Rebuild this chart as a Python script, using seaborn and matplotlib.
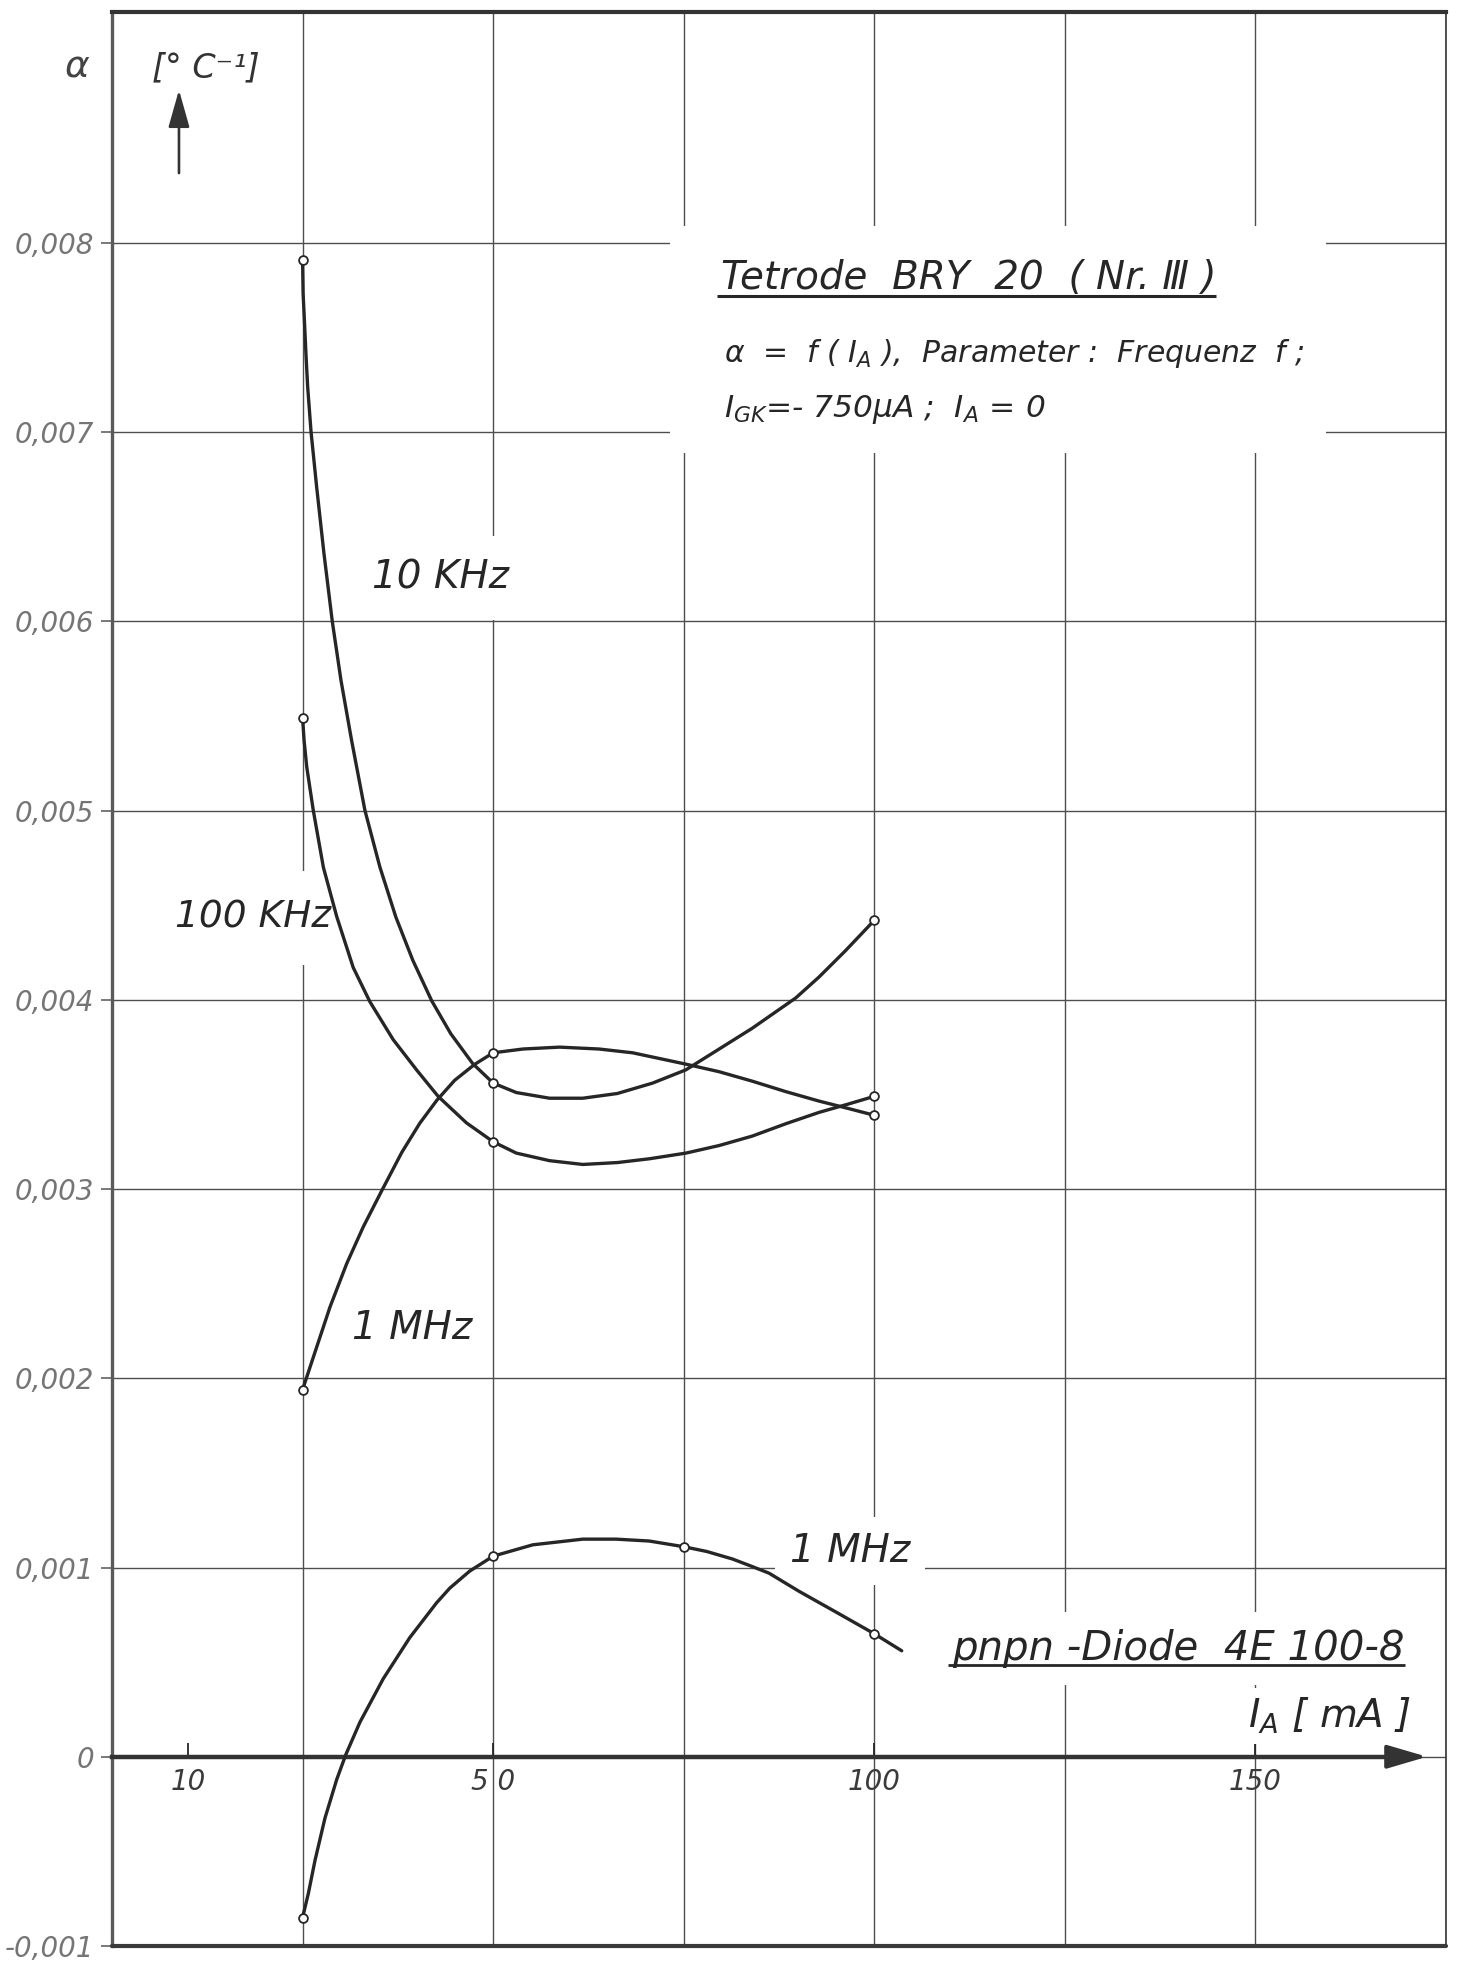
import numpy as np
import pandas as pd
import matplotlib
matplotlib.use("Agg")
import matplotlib.pyplot as plt
import matplotlib.patches as mpatches
from matplotlib.lines import Line2D
from matplotlib.ticker import FuncFormatter
import seaborn as sns

# ---------------------------------------------------------------
# Measured points: anode current I_A [mA] -> alpha [1e-3 / degC]
# ---------------------------------------------------------------
ia_tetrode = [25, 50, 100]
alpha_10khz = [7.91, 3.56, 4.42]
alpha_100khz = [5.49, 3.25, 3.49]
alpha_1mhz = [1.94, 3.72, 3.39]

ia_diode = [25, 50, 75, 100]
alpha_diode_1mhz = [-0.85, 1.06, 1.11, 0.65]

# ---------------------------------------------------------------
# Hand-drawn curves through the measured points (traced values)
# ---------------------------------------------------------------
curve_10khz_x = [25.0, 25.07, 25.24, 25.46, 25.67, 26.11, 26.85, 27.81, 28.90,
                 30.04, 31.43, 33.18, 35.14, 37.24, 39.46, 41.95, 44.44, 47.32,
                 50.0, 53.04, 57.4, 61.76, 66.3, 70.92, 75.29, 79.65, 84.0,
                 89.7, 92.74, 96.23, 100.0]
curve_10khz_y = [7.91, 7.734, 7.59, 7.399, 7.238, 7.002, 6.709, 6.357, 5.999,
                 5.688, 5.371, 5.001, 4.702, 4.437, 4.209, 3.994, 3.821, 3.663,
                 3.56, 3.51, 3.48, 3.48, 3.505, 3.56, 3.63, 3.74, 3.85,
                 4.01, 4.12, 4.26, 4.42]

curve_100khz_x = [25.0, 25.2, 25.55, 26.41, 27.73, 29.48, 31.65, 33.83, 36.88,
                  39.95, 42.78, 46.49, 50.0, 53.04, 57.4, 61.76, 66.3, 70.5,
                  75.29, 79.65, 84.0, 88.38, 92.74, 96.66, 100.0]
curve_100khz_y = [5.49, 5.37, 5.23, 5.00, 4.70, 4.44, 4.17, 3.99, 3.79,
                  3.63, 3.49, 3.35, 3.25, 3.19, 3.15, 3.13, 3.14, 3.16,
                  3.19, 3.23, 3.28, 3.345, 3.405, 3.45, 3.49]

curve_1mhz_x = [25.0, 26.86, 28.60, 30.79, 32.96, 35.37, 38.02, 40.38, 42.61,
                44.96, 47.58, 50.0, 53.9, 58.7, 63.9, 68.3, 75.29, 79.65,
                84.0, 88.38, 92.74, 96.66, 100.0]
curve_1mhz_y = [1.94, 2.166, 2.377, 2.606, 2.800, 2.990, 3.194, 3.348, 3.469,
                3.575, 3.659, 3.72, 3.74, 3.75, 3.74, 3.72, 3.66, 3.62,
                3.57, 3.515, 3.465, 3.425, 3.39]

curve_diode_x = [25.0, 25.76, 26.64, 27.94, 29.48, 30.69, 32.53, 35.58, 39.07,
                 42.57, 44.31, 46.92, 50.0, 55.2, 61.76, 66.12, 70.48, 75.0,
                 78.0, 81.4, 84.0, 86.2, 90.1, 95.4, 100.0, 103.6]
curve_diode_y = [-0.85, -0.722, -0.546, -0.324, -0.120, 0.013, 0.183, 0.412,
                 0.630, 0.813, 0.891, 0.981, 1.06, 1.12, 1.15, 1.15, 1.14, 1.11,
                 1.085, 1.045, 1.005, 0.97, 0.875, 0.755, 0.65, 0.56]

y_tick_values = [-1, 0, 1, 2, 3, 4, 5, 6, 7, 8]          # in 1e-3 / degC
x_label_positions = [10, 50, 100, 150]
x_label_texts = ["10", "5 0", "100", "150"]
x_grid_step = 25

SCALE = 1e-3
INK = "#262626"
GRID = "#4e4e4e"

# ---------------------------------------------------------------
sns.set_theme(style="white")
plt.rcParams["font.family"] = ["DejaVu Sans"]
plt.rcParams["font.style"] = "italic"
plt.rcParams["mathtext.fontset"] = "dejavusans"

curves = pd.concat([
    pd.DataFrame({"I_A": curve_10khz_x, "alpha": np.array(curve_10khz_y) * SCALE, "curve": "10 kHz"}),
    pd.DataFrame({"I_A": curve_100khz_x, "alpha": np.array(curve_100khz_y) * SCALE, "curve": "100 kHz"}),
    pd.DataFrame({"I_A": curve_1mhz_x, "alpha": np.array(curve_1mhz_y) * SCALE, "curve": "1 MHz"}),
    pd.DataFrame({"I_A": curve_diode_x, "alpha": np.array(curve_diode_y) * SCALE, "curve": "diode 1 MHz"}),
], ignore_index=True)

points = pd.concat([
    pd.DataFrame({"I_A": ia_tetrode, "alpha": np.array(alpha_10khz) * SCALE}),
    pd.DataFrame({"I_A": ia_tetrode, "alpha": np.array(alpha_100khz) * SCALE}),
    pd.DataFrame({"I_A": ia_tetrode, "alpha": np.array(alpha_1mhz) * SCALE}),
    pd.DataFrame({"I_A": ia_diode, "alpha": np.array(alpha_diode_1mhz) * SCALE}),
], ignore_index=True)

fig = plt.figure(figsize=(14.63, 19.62), dpi=100)
fig.patch.set_facecolor("white")
ax = fig.add_axes([112 / 1463, 16 / 1962, (1446 - 112) / 1463, (1946 - 12) / 1962])
ax.set_facecolor("white")

sns.lineplot(data=curves, x="I_A", y="alpha", units="curve", estimator=None,
             sort=False, color=INK, lw=2.4, legend=False, ax=ax, zorder=3,
             solid_joinstyle="round", solid_capstyle="round")
sns.scatterplot(data=points, x="I_A", y="alpha", marker="o", s=40,
                color="white", edgecolor=INK, linewidth=1.3, legend=False,
                ax=ax, zorder=4)

ax.set_xlabel("")
ax.set_ylabel("")
ax.set_xlim(0, 174.6)
ax.set_ylim(-0.001, 0.00922)
ax.set_axisbelow(True)

# grid and ticks
ax.xaxis.remove_overlapping_locs = False
ax.set_xticks(np.arange(0, 176, x_grid_step))
ax.set_xticks(x_label_positions, labels=x_label_texts, minor=True)
ax.tick_params(axis="x", which="major", length=0, bottom=False, labelbottom=False)
ax.tick_params(axis="x", which="minor", bottom=True, direction="in", length=10,
               width=1.3, color=INK, labelsize=20, labelcolor="#3a3a3a", pad=8)
for lbl in ax.xaxis.get_minorticklabels():
    lbl.set_bbox(dict(facecolor="white", edgecolor="none", pad=3))

ax.set_yticks(np.array(y_tick_values) * SCALE)


def alpha_fmt(v, pos):
    if abs(v) < 1e-9:
        return "0"
    return f"{v:.3f}".replace(".", ",")


ax.yaxis.set_major_formatter(FuncFormatter(alpha_fmt))
ax.tick_params(axis="y", which="major", left=True, direction="out", length=8,
               width=1.1, color="#555555", labelsize=20, labelcolor="#757575", pad=5)
ax.grid(True, which="major", color=GRID, lw=1.0)

# frame: zero line as x axis with arrow, heavy outer frame
for side in ("left", "top", "right", "bottom"):
    ax.spines[side].set_visible(True)
ax.spines["left"].set_linewidth(2.4)
ax.spines["left"].set_color("#5a5a5a")
ax.spines["top"].set_linewidth(3.0)
ax.spines["top"].set_color("#333333")
ax.spines["right"].set_linewidth(1.2)
ax.spines["right"].set_color("#333333")
ax.spines["bottom"].set_position(("data", 0))
ax.spines["bottom"].set_linewidth(3.2)
ax.spines["bottom"].set_color("#333333")
ax.spines["bottom"].set_bounds(0, 0.9603 * 174.6)
ax.axhline(ax.get_ylim()[0], color="#3a3a3a", lw=3.0, clip_on=False, zorder=2.6)

ax.annotate("", xy=(0.9858, 0), xytext=(0.958, 0),
            xycoords=ax.get_yaxis_transform(), textcoords=ax.get_yaxis_transform(),
            arrowprops=dict(arrowstyle="-|>,head_length=2.45,head_width=0.72",
                            mutation_scale=10, lw=2.8, color="#333333",
                            shrinkA=0, shrinkB=0), zorder=2.7)

# y-axis quantity and arrow
fig.text(65 / 1463, (1962 - 77) / 1962, "α", fontsize=27, color="#444444",
         ha="left", va="baseline")
ax.text(0.030, 0.9664, "[° C⁻¹]", transform=ax.transAxes, fontsize=24,
        color="#333333", ha="left", va="baseline", zorder=2)
ax.annotate("", xy=(0.0502, 0.9597), xytext=(0.0502, 0.9167),
            xycoords="axes fraction",
            arrowprops=dict(arrowstyle="-|>,head_length=2.3,head_width=0.65",
                            mutation_scale=10, lw=1.9, color="#333333",
                            shrinkA=0, shrinkB=0))

# title block
ax.add_patch(mpatches.Rectangle((0.4183, 0.7720), 0.4917, 0.1173,
                                transform=ax.transAxes, facecolor="white",
                                edgecolor="none", zorder=1))
title = ax.text(0.4565, 0.8568, "Tetrode  BRY  20  ( Nr. Ⅲ )", transform=ax.transAxes,
                fontsize=28, color=INK, ha="left", va="baseline", zorder=2)
ax.text(0.4588, 0.8190, "α  =  f ( $I_A$ ),  Parameter :  Frequenz  f ;",
        transform=ax.transAxes, fontsize=21.5, color=INK, ha="left",
        va="baseline", zorder=2)
ax.text(0.4588, 0.7906, "$I_{GK}$=- 750μA ;  $I_A$ = 0",
        transform=ax.transAxes, fontsize=22.5, color=INK, ha="left",
        va="baseline", zorder=2)

# curve labels (white boxes interrupt the grid)
label_kw = dict(transform=ax.transAxes, color=INK, ha="left",
                va="baseline", zorder=2)
ax.text(0.1949, 0.7017, "10 KHz", fontsize=28,
        bbox=dict(boxstyle="square,pad=0.6", fc="white", ec="none"), **label_kw)
ax.text(0.0470, 0.5264, "100 KHz", fontsize=27,
        bbox=dict(boxstyle="square,pad=0.78", fc="white", ec="none"), **label_kw)
ax.text(0.1799, 0.3139, "1 MHz", fontsize=28, **label_kw)
ax.text(0.5082, 0.1986, "1 MHz", fontsize=28,
        bbox=dict(boxstyle="square,pad=0.38", fc="white", ec="none"), **label_kw)
diode = ax.text(0.6300, 0.1479, "pnpn -Diode  4E 100-8", fontsize=29,
                bbox=dict(boxstyle="square,pad=0.42", fc="white", ec="none"),
                **label_kw)
ax.text(0.8516, 0.1127, "$I_A$ [ mA ]", fontsize=28,
        bbox=dict(boxstyle="square,pad=0.2", fc="white", ec="none"), **label_kw)

# underlines for the two headings
fig.canvas.draw()
renderer = fig.canvas.get_renderer()
to_fig = fig.transFigure.inverted()
for t, off, lw in ((title, 1.0, 2.2), (diode, 3.0, 2.0)):
    bb = t.get_window_extent(renderer)
    (x0, y0), (x1, _) = to_fig.transform([(bb.x0 - 4, bb.y0 + off), (bb.x1, bb.y0 + off)])
    fig.add_artist(Line2D([x0, x1], [y0, y0], transform=fig.transFigure,
                          color=INK, lw=lw, solid_capstyle="butt"))

fig.savefig("out.png", dpi=100, facecolor="white")
